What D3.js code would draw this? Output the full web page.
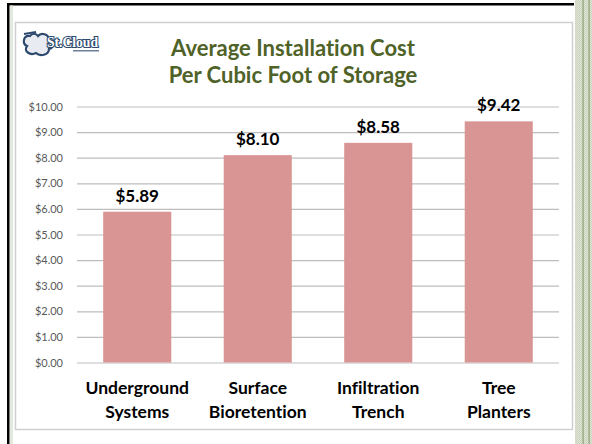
<!DOCTYPE html>
<html><head><meta charset="utf-8">
<script src="https://cdn.jsdelivr.net/npm/d3@7"></script>
<style>html,body{margin:0;padding:0;background:#fff;}svg{display:block;}text{font-variant-ligatures:none;font-feature-settings:"liga" 0,"clig" 0;}</style>
</head><body>
<script>
const categories = [["Underground","Systems"],["Surface","Bioretention"],["Infiltration","Trench"],["Tree","Planters"]];
const values = [5.89, 8.10, 8.58, 9.42];
const tickValues = [0,1,2,3,4,5,6,7,8,9,10];
const titleLines = ["Average Installation Cost","Per Cubic Foot of Storage"];

const W = 592, H = 444;
const svg = d3.select("body").append("svg").attr("width", W).attr("height", H);
const font = "Lato, 'Open Sans', sans-serif";

// patterned right stripe
const defs = svg.append("defs");
const pat = defs.append("pattern").attr("id","tex").attr("width",2).attr("height",2).attr("patternUnits","userSpaceOnUse");
pat.append("rect").attr("width",2).attr("height",2).attr("fill","#dfe6d5");
pat.append("rect").attr("width",1).attr("height",1).attr("fill","#c9d3bb");
pat.append("rect").attr("x",1).attr("y",1).attr("width",1).attr("height",1).attr("fill","#c9d3bb");
svg.append("rect").attr("x",575).attr("y",0).attr("width",17).attr("height",H).attr("fill","url(#tex)");
svg.append("rect").attr("x",582.5).attr("y",0).attr("width",1.2).attr("height",H).attr("fill","#8fa07a");
svg.append("rect").attr("x",588.5).attr("y",0).attr("width",1.2).attr("height",H).attr("fill","#8fa07a");

// outer black frame
svg.append("rect").attr("x",7).attr("y",3).attr("width",2.5).attr("height",H).attr("fill","#000");
svg.append("rect").attr("x",7).attr("y",3).attr("width",567).attr("height",2.5).attr("fill","#000");
svg.append("rect").attr("x",10).attr("y",5.5).attr("width",3).attr("height",H).attr("fill","#e3e9dc");

// inner chart box
svg.append("rect").attr("x",15.5).attr("y",22.5).attr("width",557).attr("height",407)
  .attr("fill","#fff").attr("stroke","#cfcfcf").attr("stroke-width",1.5);

// logo
const logo = svg.append("g").attr("transform","translate(21,29)");
logo.append("path").attr("d","M9,7 C2,6 1,15 6,17 C2,22 9,27 15,24 C19,28 28,26 28,20 C33,19 33,12 28,11 C28,5 20,3 17,7 C15,4 11,4 9,7 Z")
  .attr("fill","#e8ecf2").attr("stroke","#2d4a6e").attr("stroke-width",2.2);
logo.append("path").attr("d","M3,5 L15,3").attr("stroke","#2d4a6e").attr("stroke-width",2);
logo.append("text").attr("x",26).attr("y",18).text("St.Cloud")
  .attr("font-family","'Liberation Serif', serif").attr("font-weight","bold").attr("font-size",14)
  .attr("fill","#fff").attr("stroke","#2d4a6e").attr("stroke-width",2.2).attr("paint-order","stroke")
  .attr("textLength",51).attr("lengthAdjust","spacingAndGlyphs");
logo.append("rect").attr("x",52).attr("y",21).attr("width",26).attr("height",1.5).attr("fill","#6b7f99");

// title
svg.append("g").selectAll("text").data(titleLines).join("text")
  .attr("x",293).attr("y",(d,i)=>56+i*27).attr("text-anchor","middle")
  .attr("font-family",font).attr("font-weight","bold").attr("font-size",22)
  .attr("fill","#4f6228").text(d=>d);

// scales
const x = d3.scaleBand().domain(d3.range(categories.length)).range([77,559]).paddingInner(0.435).paddingOuter(0.2175);
const y = d3.scaleLinear().domain([0,10]).range([362.5,106.5]);

// gridlines via axis
const yAxis = d3.axisLeft(y).tickValues(tickValues).tickSize(-(559-77)).tickPadding(14)
  .tickFormat(d=>"$"+d3.format(".2f")(d));
const ga = svg.append("g").attr("transform","translate(77,0)").call(yAxis);
ga.select(".domain").remove();
ga.selectAll(".tick line").attr("stroke","#bdbdbd").attr("stroke-width",1.2);
ga.selectAll(".tick text").attr("font-family",font).attr("font-size",11).attr("fill","#595959");

// bars
svg.append("g").selectAll("rect").data(values).join("rect")
  .attr("x",(d,i)=>x(i)).attr("width",x.bandwidth())
  .attr("y",d=>y(d)).attr("height",d=>y(0)-y(d)).attr("fill","#d99594");

// data labels
svg.append("g").selectAll("text").data(values).join("text")
  .attr("x",(d,i)=>x(i)+x.bandwidth()/2).attr("y",d=>y(d)-10).attr("text-anchor","middle")
  .attr("font-family",font).attr("font-weight","bold").attr("font-size",17).attr("fill","#000")
  .text(d=>"$"+d3.format(".2f")(d));

// category labels
const xAxis = d3.axisBottom(x).tickSize(0).tickFormat("");
const gx = svg.append("g").attr("transform",`translate(0,${y(0)})`).call(xAxis);
gx.select(".domain").remove();
gx.selectAll(".tick").each(function(d){
  const t = d3.select(this).append("text").attr("text-anchor","middle")
    .attr("font-family",font).attr("font-weight","bold").attr("font-size",17.5).attr("fill","#000");
  categories[d].forEach((line,j)=>{
    t.append("tspan").attr("x",0).attr("y",31+j*24).text(line);
  });
});
</script>
</body></html>
